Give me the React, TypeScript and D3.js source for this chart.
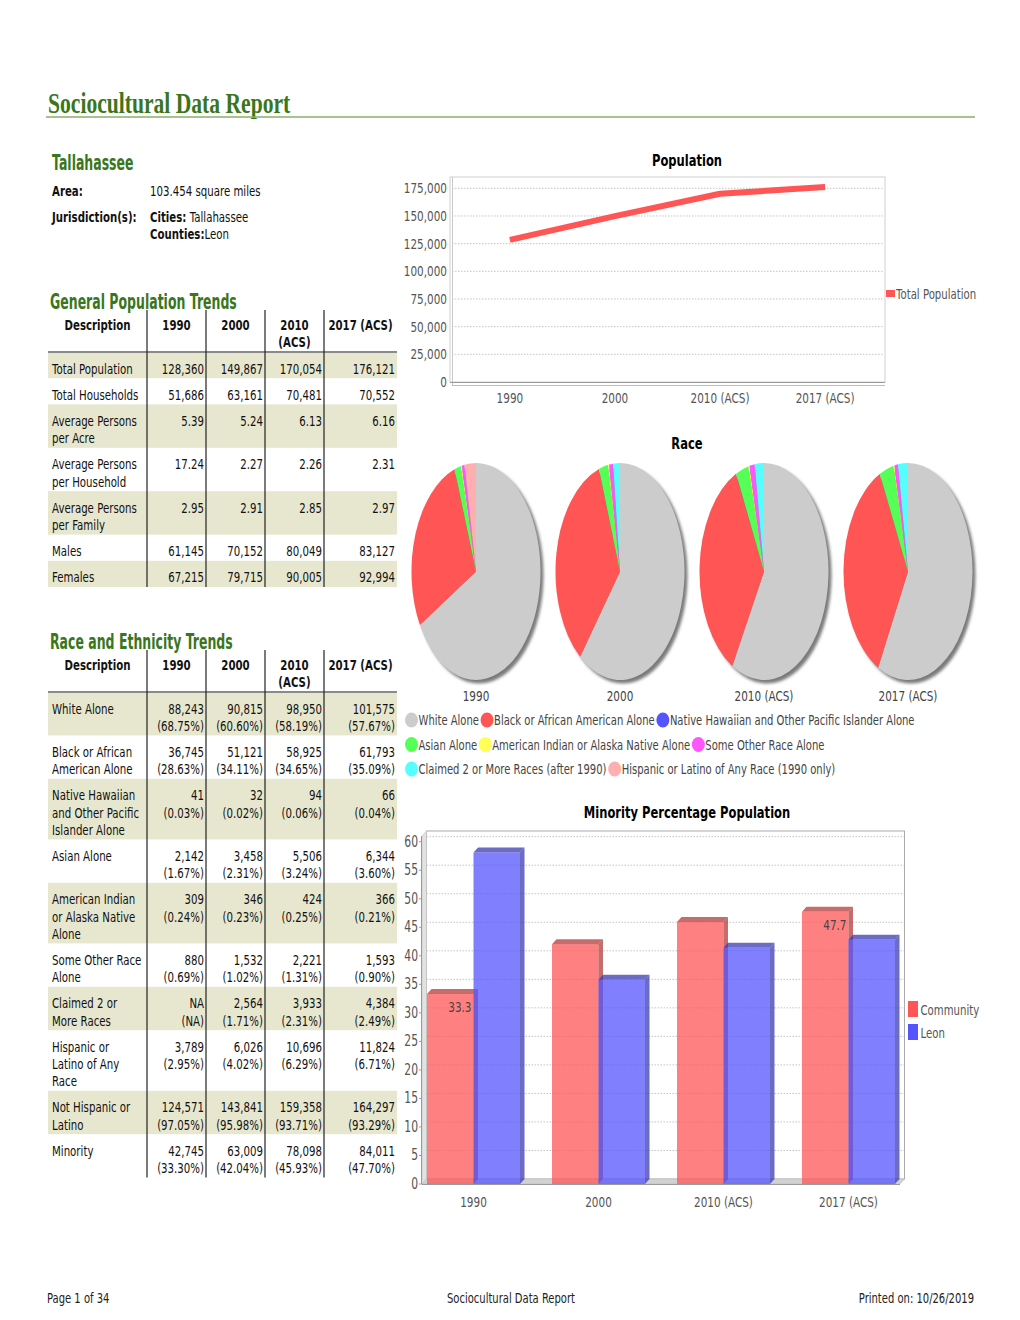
import React from 'react';
import * as d3 from 'd3';

const SANS = "'DejaVu Sans', Verdana, sans-serif";
const SERIF = "'Liberation Serif', 'DejaVu Serif', serif";
const GREEN = '#3a761b';

// ---------- data ----------
const years = ['1990', '2000', '2010 (ACS)', '2017 (ACS)'];
const tableHeads = [['Description'], ['1990'], ['2000'], ['2010', '(ACS)'], ['2017 (ACS)']];

const generalLabels = [
  ['Total Population'],
  ['Total Households'],
  ['Average Persons', 'per Acre'],
  ['Average Persons', 'per Household'],
  ['Average Persons', 'per Family'],
  ['Males'],
  ['Females'],
];
const generalValues = [
  ['128,360', '149,867', '170,054', '176,121'],
  ['51,686', '63,161', '70,481', '70,552'],
  ['5.39', '5.24', '6.13', '6.16'],
  ['17.24', '2.27', '2.26', '2.31'],
  ['2.95', '2.91', '2.85', '2.97'],
  ['61,145', '70,152', '80,049', '83,127'],
  ['67,215', '79,715', '90,005', '92,994'],
];

const raceLabels = [
  ['White Alone'],
  ['Black or African', 'American Alone'],
  ['Native Hawaiian', 'and Other Pacific', 'Islander Alone'],
  ['Asian Alone'],
  ['American Indian', 'or Alaska Native', 'Alone'],
  ['Some Other Race', 'Alone'],
  ['Claimed 2 or', 'More Races'],
  ['Hispanic or', 'Latino of Any', 'Race'],
  ['Not Hispanic or', 'Latino'],
  ['Minority'],
];
const raceCounts = [
  ['88,243', '90,815', '98,950', '101,575'],
  ['36,745', '51,121', '58,925', '61,793'],
  ['41', '32', '94', '66'],
  ['2,142', '3,458', '5,506', '6,344'],
  ['309', '346', '424', '366'],
  ['880', '1,532', '2,221', '1,593'],
  ['NA', '2,564', '3,933', '4,384'],
  ['3,789', '6,026', '10,696', '11,824'],
  ['124,571', '143,841', '159,358', '164,297'],
  ['42,745', '63,009', '78,098', '84,011'],
];
const racePcts = [
  ['(68.75%)', '(60.60%)', '(58.19%)', '(57.67%)'],
  ['(28.63%)', '(34.11%)', '(34.65%)', '(35.09%)'],
  ['(0.03%)', '(0.02%)', '(0.06%)', '(0.04%)'],
  ['(1.67%)', '(2.31%)', '(3.24%)', '(3.60%)'],
  ['(0.24%)', '(0.23%)', '(0.25%)', '(0.21%)'],
  ['(0.69%)', '(1.02%)', '(1.31%)', '(0.90%)'],
  ['(NA)', '(1.71%)', '(2.31%)', '(2.49%)'],
  ['(2.95%)', '(4.02%)', '(6.29%)', '(6.71%)'],
  ['(97.05%)', '(95.98%)', '(93.71%)', '(93.29%)'],
  ['(33.30%)', '(42.04%)', '(45.93%)', '(47.70%)'],
];

const totalPopulation = [128360, 149867, 170054, 176121];
const popTicks = [0, 25000, 50000, 75000, 100000, 125000, 150000, 175000];

const pieCategories = [
  'White Alone',
  'Black or African American Alone',
  'Native Hawaiian and Other Pacific Islander Alone',
  'Asian Alone',
  'American Indian or Alaska Native Alone',
  'Some Other Race Alone',
  'Claimed 2 or More Races (after 1990)',
  'Hispanic or Latino of Any Race (1990 only)',
];
const pieColors = ['#cccccc', '#ff5555', '#5555ff', '#55ff55', '#ffff55', '#ff55ff', '#55ffff', '#ffafaf'];
const pieShares1990 = [68.75, 28.63, 0.03, 1.67, 0.24, 0.69, 0, 2.95];
const pieShares2000 = [60.6, 34.11, 0.02, 2.31, 0.23, 1.02, 1.71, 0];
const pieShares2010 = [58.19, 34.65, 0.06, 3.24, 0.25, 1.31, 2.31, 0];
const pieShares2017 = [57.67, 35.09, 0.04, 3.6, 0.21, 0.9, 2.49, 0];
const pieShares = [pieShares1990, pieShares2000, pieShares2010, pieShares2017];
const legendRows = [[0, 1, 2], [3, 4, 5], [6, 7]];

const minoritySeries = ['Community', 'Leon'];
const minorityCommunity = [33.3, 42.04, 45.93, 47.7];
const minorityLeon = [58.1, 35.8, 41.4, 42.8];
const minorityTicks = [0, 5, 10, 15, 20, 25, 30, 35, 40, 45, 50, 55, 60];
const labelledCommunity = [0, 3];
const seriesColors = ['#ff5555', '#5555ff'];
const seriesDark = ['#b23b3b', '#3b3bb2'];

// ---------- helpers ----------
let _ctx: CanvasRenderingContext2D | null = null;
function measure(s: string, size: number, weight = 400) {
  if (!_ctx) _ctx = document.createElement('canvas').getContext('2d');
  if (!_ctx) return s.length * size * 0.6;
  _ctx.font = `${weight} ${size}px "DejaVu Sans"`;
  return _ctx.measureText(s).width;
}

function T({ x, y, children, size = 14.8, w = 400, anchor = 'start', fill = '#111', sx = 0.69, family = SANS }: any) {
  return (
    <text
      transform={`translate(${x},${y}) scale(${sx},1)`}
      fontSize={size}
      fontWeight={w}
      textAnchor={anchor}
      fill={fill}
      fontFamily={family}
    >
      {children}
    </text>
  );
}

function DataTable({ top, labels, values }: any) {
  const left = 48, right = 397;
  const seps = [147, 206, 265, 324];
  const colR = [145, 204, 263, 322, 395];
  const centers = [97.5, 176.5, 235.5, 294.5, 360.5];
  const headBottom = top + 42;
  let y = headBottom;
  const rows = labels.map((lab: string[], i: number) => {
    const vals: string[][] = values[i];
    const lines = Math.max(lab.length, ...vals.map((v) => v.length));
    const h = 9 + 17.2 * lines;
    const r = { y, h, lab, vals, shaded: i % 2 === 0 };
    y += h;
    return r;
  });
  const bottom = y;
  return (
    <g>
      {rows.map((r: any, i: number) =>
        r.shaded ? <rect key={'s' + i} x={left} y={r.y} width={right - left} height={r.h} fill="#e7e7cf" /> : null
      )}
      <line x1={left} x2={right} y1={headBottom} y2={headBottom} stroke="#8a8a8a" strokeWidth={2} />
      {seps.map((s, i) => (
        <line key={'v' + i} x1={s} x2={s} y1={top} y2={bottom} stroke="#222" strokeWidth={1.2} />
      ))}
      {tableHeads.map((h, i) =>
        h.map((t, k) => (
          <T key={`h${i}-${k}`} x={centers[i]} y={top + 20 + 17 * k} w={700} anchor="middle">
            {t}
          </T>
        ))
      )}
      {rows.map((r: any, i: number) => (
        <g key={'r' + i}>
          {r.lab.map((t: string, k: number) => (
            <T key={'l' + k} x={52} y={r.y + 21.5 + 17.2 * k}>
              {t}
            </T>
          ))}
          {r.vals.map((col: string[], c: number) =>
            col.map((t: string, k: number) => (
              <T key={`v${c}-${k}`} x={colR[c + 1]} y={r.y + 21.5 + 17.2 * k} anchor="end">
                {t}
              </T>
            ))
          )}
        </g>
      ))}
    </g>
  );
}

function PopulationChart() {
  const x = d3.scalePoint<string>().domain(years).range([450, 885]).padding(0.57);
  const y = d3.scaleLinear().domain([0, 175000]).range([382, 188.3]);
  const fmt = d3.format(',');
  const line = d3
    .line<number>()
    .x((_, i) => x(years[i]) as number)
    .y((d) => y(d));
  return (
    <g>
      <T x={687} y={166} size={16} w={700} anchor="middle" sx={0.72} fill="#000">
        Population
      </T>
      <rect x={450} y={177} width={435} height={205} fill="#fff" stroke="#cfcfcf" />
      {popTicks.slice(1).map((t) => (
        <line key={t} x1={452} x2={884} y1={y(t)} y2={y(t)} stroke="#b5b5b5" strokeDasharray="1.5,1.5" strokeWidth={0.8} />
      ))}
      <line x1={452.5} x2={452.5} y1={177} y2={385} stroke="#c8c8c8" />
      <line x1={450} x2={885} y1={382.5} y2={382.5} stroke="#9a9a9a" />
      <line x1={452} x2={885} y1={385.5} y2={385.5} stroke="#bdbdbd" />
      {popTicks.map((t) => (
        <T key={'t' + t} x={447} y={y(t) + 5} size={14.5} sx={0.72} anchor="end" fill="#555">
          {fmt(t)}
        </T>
      ))}
      {years.map((yr) => (
        <T key={yr} x={x(yr)} y={403} size={14.5} sx={0.72} anchor="middle" fill="#555">
          {yr}
        </T>
      ))}
      <path d={line(totalPopulation) || ''} fill="none" stroke="#ff5555" strokeWidth={6} strokeLinejoin="round" />
      <rect x={886} y={290} width={9} height={7} fill="#ff5555" />
      <T x={896} y={299} size={14.5} sx={0.7} fill="#555">
        Total Population
      </T>
    </g>
  );
}

function RaceCharts() {
  const cx = d3.scalePoint<string>().domain(years).range([404, 980]).padding(0.5);
  const cy = 571.5;
  const R = 100;
  const rx = 64.5, ry = 108.5;
  const pie = d3.pie<number>().sort(null).value((d) => d);
  const arc = d3.arc<d3.PieArcDatum<number>>().innerRadius(0).outerRadius(R);
  const rowY = [720, 744.5, 769];
  const lsx = 0.715;
  return (
    <g>
      <defs>
        <filter id="pieShadow" x="-20%" y="-20%" width="140%" height="140%">
          <feGaussianBlur stdDeviation="1.6" />
        </filter>
      </defs>
      <T x={687} y={449} size={16} w={700} anchor="middle" sx={0.72} fill="#000">
        Race
      </T>
      {years.map((yr, i) => {
        const c = cx(yr) as number;
        return (
          <g key={yr}>
            <ellipse cx={c + 3} cy={cy + 3.5} rx={rx} ry={ry} fill="#7a7a7a" filter="url(#pieShadow)" />
            <g transform={`translate(${c},${cy}) scale(${rx / R},${ry / R})`}>
              {pie(pieShares[i]).map((a, k) =>
                a.value > 0 ? <path key={k} d={arc(a) || ''} fill={pieColors[k]} /> : null
              )}
            </g>
            <T x={c} y={701} size={14.5} sx={0.72} anchor="middle" fill="#444">
              {yr}
            </T>
          </g>
        );
      })}
      {legendRows.map((row, ri) => {
        let x = 405;
        return (
          <g key={'lr' + ri}>
            {row.map((k) => {
              const w = measure(pieCategories[k], 14) * lsx;
              const x0 = x;
              x += 14 + w + 1;
              return (
                <g key={k}>
                  <ellipse cx={x0 + 6.5} cy={rowY[ri]} rx={6.5} ry={7.5} fill={pieColors[k]} />
                  <T x={x0 + 13.5} y={rowY[ri] + 5} size={14} sx={lsx} fill="#444">
                    {pieCategories[k]}
                  </T>
                </g>
              );
            })}
          </g>
        );
      })}
    </g>
  );
}

function MinorityChart() {
  const y0 = 1184;
  const y = d3.scaleLinear().domain([0, 60]).range([y0, 841.7]);
  const x = d3.scaleBand<string>().domain(years).range([422, 900]).paddingInner(0.256).paddingOuter(0.04);
  const sub = d3.scaleBand<string>().domain(minoritySeries).range([0, x.bandwidth()]);
  const dx = 4.5, dy = 5;
  const topY = y(61);
  const series = [minorityCommunity, minorityLeon];
  const fmt = d3.format('.1f');
  return (
    <g>
      <T x={687} y={818} size={16} w={700} anchor="middle" sx={0.72} fill="#000">
        Minority Percentage Population
      </T>
      <rect x={422 + dx} y={topY - dy} width={478} height={y0 - topY} fill="#fff" stroke="#ababab" />
      {minorityTicks.slice(1).map((t) => (
        <line key={t} x1={422 + dx} x2={900 + dx} y1={y(t) - dy} y2={y(t) - dy} stroke="#b5b5b5" strokeDasharray="1.5,1.5" strokeWidth={0.8} />
      ))}
      <polygon points={`${422},${y0} ${422},${topY} ${422 + dx},${topY - dy} ${422 + dx},${y0 - dy}`} fill="#e2e2e2" stroke="#c4c4c4" strokeWidth={0.6} />
      <polygon points={`${422},${y0} ${900},${y0} ${900 + dx},${y0 - dy} ${422 + dx},${y0 - dy}`} fill="#d2d2d2" stroke="#bdbdbd" strokeWidth={0.6} />
      {years.map((yr, i) =>
        minoritySeries.map((s, si) => {
          const v = series[si][i];
          const bx = (x(yr) as number) + (sub(s) as number);
          const bw = sub.bandwidth();
          const by = y(v);
          return (
            <g key={yr + s} fillOpacity={0.75}>
              <rect x={bx} y={by} width={bw} height={y0 - by} fill={seriesColors[si]} />
              <polygon points={`${bx},${by} ${bx + dx},${by - dy} ${bx + bw + dx},${by - dy} ${bx + bw},${by}`} fill={seriesDark[si]} />
              <polygon points={`${bx + bw},${by} ${bx + bw + dx},${by - dy} ${bx + bw + dx},${y0 - dy} ${bx + bw},${y0}`} fill={seriesDark[si]} />
            </g>
          );
        })
      )}
      {labelledCommunity.map((i) => {
        const bx = (x(years[i]) as number) + (sub('Community') as number);
        return (
          <T key={'bl' + i} x={bx + sub.bandwidth() - 2} y={y(minorityCommunity[i]) + 18} size={14.5} sx={0.72} anchor="end" fill="#444">
            {fmt(minorityCommunity[i])}
          </T>
        );
      })}
      <line x1={422} x2={900} y1={y0 + 0.5} y2={y0 + 0.5} stroke="#9a9a9a" />
      <line x1={421.5} x2={421.5} y1={topY} y2={y0} stroke="#9a9a9a" />
      {minorityTicks.map((t) => (
        <g key={'yt' + t}>
          <line x1={419} x2={422} y1={y(t)} y2={y(t)} stroke="#9a9a9a" />
          <T x={418} y={y(t) + 5} size={15} sx={0.72} anchor="end" fill="#555">
            {t}
          </T>
        </g>
      ))}
      {years.map((yr) => (
        <T key={'xl' + yr} x={(x(yr) as number) + x.bandwidth() / 2} y={1207} size={14.5} sx={0.72} anchor="middle" fill="#555">
          {yr}
        </T>
      ))}
      {minoritySeries.map((s, si) => (
        <g key={'lg' + s}>
          <rect x={908} y={1001 + si * 23} width={10} height={16} fill={seriesColors[si]} />
          <T x={920.5} y={1015 + si * 23} size={14.5} sx={0.7} fill="#555">
            {s}
          </T>
        </g>
      ))}
    </g>
  );
}

export default function App() {
  const raceValues = raceCounts.map((row, i) => row.map((c, j) => [c, racePcts[i][j]]));
  const genValues = generalValues.map((row) => row.map((v) => [v]));
  return (
    <svg
      width={1020}
      height={1320}
      viewBox="0 0 1020 1320"
      style={{ position: 'absolute', left: 0, top: 0, background: '#fff', display: 'block' }}
    >
      <rect x={0} y={0} width={1020} height={1320} fill="#fff" />
      {/* Title */}
      <T x={48} y={113} size={30} w={700} family={SERIF} sx={0.72} fill={GREEN}>
        Sociocultural Data Report
      </T>
      <line x1={46} x2={975} y1={117} y2={117} stroke="#8cab6c" strokeWidth={1.5} />

      {/* Location info */}
      <T x={52} y={170} size={20.5} w={700} sx={0.61} fill={GREEN}>
        Tallahassee
      </T>
      <T x={52} y={196} w={700}>Area:</T>
      <T x={150} y={196}>103.454 square miles</T>
      <T x={52} y={222} w={700}>Jurisdiction(s):</T>
      <T x={150} y={222}>
        <tspan fontWeight={700}>Cities:</tspan> Tallahassee
      </T>
      <T x={150} y={239}>
        <tspan fontWeight={700}>Counties:</tspan>Leon
      </T>

      <T x={50} y={309} size={20.5} w={700} sx={0.61} fill={GREEN}>
        General Population Trends
      </T>
      <DataTable top={310} labels={generalLabels} values={genValues} />

      <T x={50} y={649} size={20.5} w={700} sx={0.61} fill={GREEN}>
        Race and Ethnicity Trends
      </T>
      <DataTable top={650} labels={raceLabels} values={raceValues} />

      <PopulationChart />
      <RaceCharts />
      <MinorityChart />

      {/* Footer */}
      <T x={47} y={1303} size={14.5} fill="#222">Page 1 of 34</T>
      <T x={511} y={1303} size={14.5} anchor="middle" fill="#222">Sociocultural Data Report</T>
      <T x={974} y={1303} size={14.5} anchor="end" fill="#222">Printed on: 10/26/2019</T>
    </svg>
  );
}
